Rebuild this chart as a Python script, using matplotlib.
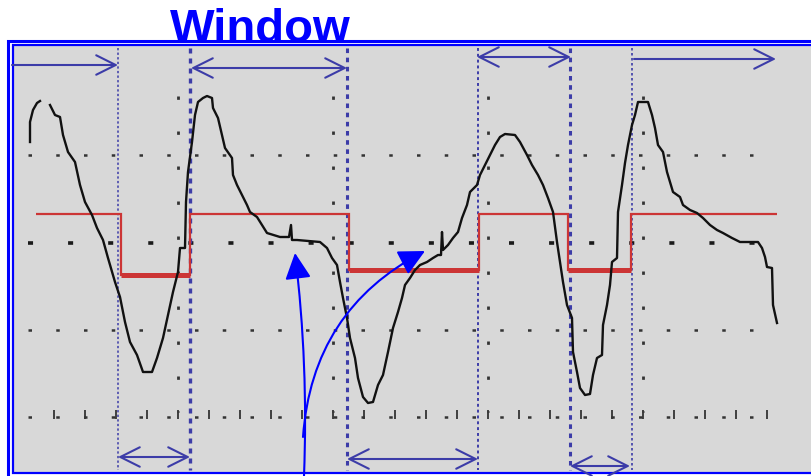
import matplotlib
matplotlib.use("Agg")
import matplotlib.pyplot as plt
import numpy as np
from matplotlib.patches import Rectangle

# trace of the scope signal (x in screen units, y downwards)
wave_x = [30, 30, 33, 37, 40, 45, 50, 55, 60, 63, 68, 75, 80, 85, 92, 97, 103, 108,
          115, 120, 125, 130, 137, 143, 152, 157, 163, 168, 173, 178, 180, 185, 186,
          188, 192, 195, 198, 203, 207, 212, 213, 218, 222, 225, 232, 233, 237, 242,
          247, 250, 257, 262, 267, 280, 289, 291, 292, 297, 320, 327, 332, 337, 340,
          343, 347, 350, 355, 358, 363, 368, 373, 378, 383, 388, 393, 398, 402, 405,
          410, 415, 420, 427, 433, 438, 441, 442, 443, 448, 453, 458, 462, 467, 470,
          477, 480, 485, 490, 495, 500, 505, 515, 520, 527, 532, 538, 543, 548, 553,
          557, 560, 563, 567, 572, 573, 577, 580, 585, 590, 593, 597, 602, 603, 607,
          610, 612, 617, 618, 622, 625, 628, 632, 635, 638, 648, 652, 655, 658, 663,
          667, 670, 673, 680, 683, 690, 697, 703, 710, 717, 723, 732, 740, 758, 762,
          765, 767, 772, 773, 777]
wave_y = [142, 122, 110, 103, 101, np.nan, 105, 115, 117, 135, 152, 162, 185, 202, 215,
          228, 240, 258, 282, 297, 322, 342, 355, 372, 372, 358, 338, 315, 292, 272,
          248, 248, 202, 172, 142, 115, 102, 98, 96, 98, 108, 118, 135, 148, 158, 175,
          185, 195, 205, 212, 217, 225, 233, 237, 237, 225, 240, 240, 242, 248, 258,
          265, 282, 298, 318, 338, 358, 378, 397, 403, 402, 385, 375, 352, 328, 312,
          298, 285, 278, 270, 265, 262, 258, 255, 255, 232, 250, 245, 238, 232, 218,
          205, 192, 185, 175, 165, 155, 145, 137, 134, 135, 142, 155, 165, 175, 185,
          198, 212, 242, 262, 282, 305, 318, 352, 372, 388, 395, 394, 375, 358, 355,
          325, 305, 285, 262, 258, 212, 185, 163, 145, 125, 115, 102, 102, 115, 128,
          145, 152, 172, 182, 192, 197, 205, 210, 213, 218, 225, 230, 233, 238, 242,
          242, 248, 257, 267, 268, 305, 323]

# window (gate) signal: edges and levels
gate_edges = [36, 121, 190, 349, 479, 568, 631, 777]
gate_levels = [214, 275, 214, 270, 214, 270, 214]

# cursor lines and their widths
cursor_x = [118, 190, 347, 478, 570, 632]
cursor_lw = [1.1, 2.4, 2.2, 1.4, 2.2, 1.2]

# measurement arrows: (x0, x1, y, style)
top_arrows = [(12, 118, 65, "->"), (191, 347, 68, "<->"),
              (477, 571, 57, "<->"), (634, 776, 59, "->")]
bottom_arrows = [(118, 190, 457, "<->"), (347, 478, 459, "<->"),
                 (570, 630, 466, "<->")]

# graticule
grid_rows = [155, 243, 330, 417]
grid_cols = [178, 333, 488, 643]

BLUE = "#0000ff"
CURSOR = "#3c3ca8"
RED = "#cc3535"
BG = "#d8d8d8"

fig = plt.figure(figsize=(8.11, 4.76), dpi=100)
ax = fig.add_axes([0, 0, 1, 1])
ax.set_xlim(0, 811)
ax.set_ylim(476, 0)
ax.axis("off")

# double frame
ax.add_patch(Rectangle((8, 40.5), 820, 440, fill=True, facecolor="white",
                       edgecolor=BLUE, lw=2.2, zorder=0))
ax.add_patch(Rectangle((12.5, 45), 820, 428, fill=True, facecolor=BG,
                       edgecolor=BLUE, lw=1.6, zorder=0.5))

# graticule dots
for gy in grid_rows:
    ax.plot([28, 772], [gy, gy], color="#1a1a1a" if gy == 243 else "#333333",
            lw=2.6 if gy == 243 else 1.8, ls=(0, (1.4, 9.7)), zorder=1)
for gx in grid_cols:
    ax.plot([gx, gx], [96, 412], color="#333333", lw=2.0, ls=(0, (1.2, 11.4)), zorder=1)
ticks = np.arange(54, 770, 31)
ax.vlines(ticks, 410, 419, color="#333333", lw=1.3, zorder=1)

# cursors
for cx, lw in zip(cursor_x, cursor_lw):
    ax.plot([cx, cx], [48, 470], color=CURSOR, lw=lw, ls=(0, (1.5, 1.5)), zorder=2)

for x0, x1, y, st in top_arrows + bottom_arrows:
    ax.annotate("", xy=(x1, y), xytext=(x0, y),
                arrowprops=dict(arrowstyle=st + ",head_length=1.4,head_width=0.7",
                                mutation_scale=10, color=CURSOR, lw=1.5,
                                shrinkA=0, shrinkB=0), zorder=3)

# gate signal
ax.stairs(gate_levels, gate_edges, baseline=None, color=RED, lw=1.6, zorder=3)
lows = [(a, b, v) for a, b, v in zip(gate_edges[:-1], gate_edges[1:], gate_levels) if v > 214]
ax.hlines([v for _, _, v in lows], [a for a, _, _ in lows], [b for _, b, _ in lows],
          color=RED, lw=3.6, zorder=3)

# signal trace
ax.plot(wave_x, wave_y, color="#111111", lw=1.7, zorder=4)

# pointer arrows
head = "-|>,head_length=0.8,head_width=0.4"
ax.annotate("", xy=(295, 253), xytext=(304, 476),
            arrowprops=dict(arrowstyle=head, mutation_scale=20, color=BLUE, lw=1.5,
                            connectionstyle="arc3,rad=0.04", shrinkA=0, shrinkB=0),
            zorder=5)
ax.annotate("", xy=(425, 251), xytext=(303, 437),
            arrowprops=dict(arrowstyle=head, mutation_scale=20, color=BLUE, lw=1.5,
                            connectionstyle="arc3,rad=-0.28", shrinkA=0, shrinkB=0),
            zorder=5)

ax.text(260, 42, "Window", color=BLUE, fontsize=34, fontweight="bold",
        family="Liberation Sans", ha="center", va="baseline", zorder=6)

fig.savefig("out.png", dpi=100)
